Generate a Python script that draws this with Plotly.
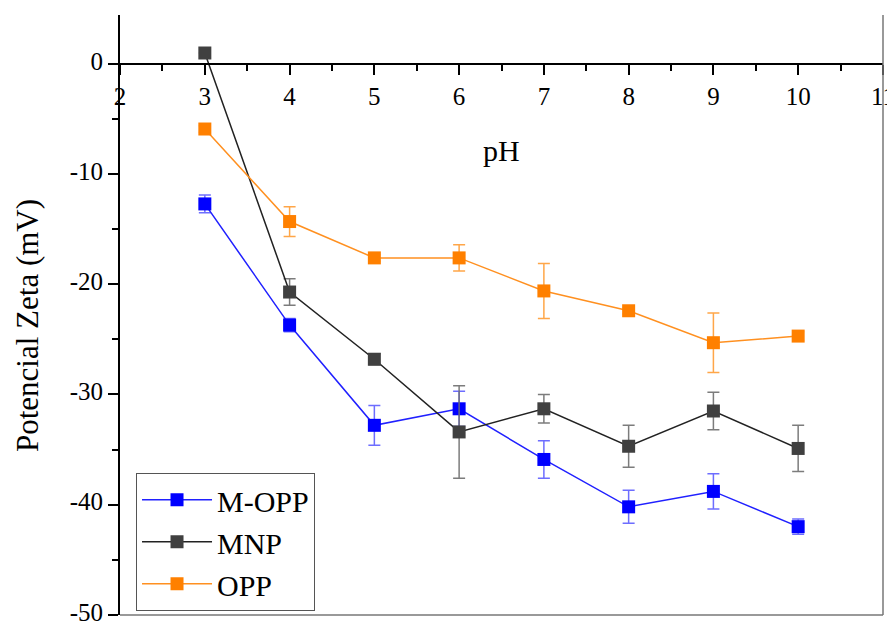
import plotly.graph_objects as go

ph = [3, 4, 5, 6, 7, 8, 9, 10]

m_opp = [-12.7, -23.7, -32.8, -31.3, -35.9, -40.2, -38.8, -42.0]
m_opp_err = [0.8, 0.6, 1.8, 1.6, 1.7, 1.5, 1.6, 0.7]

mnp = [1.0, -20.7, -26.8, -33.4, -31.3, -34.7, -31.5, -34.9]
mnp_err = [0.0, 1.2, 0.5, 4.2, 1.3, 1.9, 1.7, 2.1]

opp = [-5.9, -14.3, -17.6, -17.6, -20.6, -22.4, -25.3, -24.7]
opp_err = [0.3, 1.35, 0.3, 1.2, 2.5, 0.3, 2.7, 0.4]

x_ticks = [2, 3, 4, 5, 6, 7, 8, 9, 10, 11]
y_ticks = [0, -10, -20, -30, -40, -50]
y_tick_text = ["0", "-10", "-20", "-30", "-40", "-50"]

Y_MIN, Y_MAX = -50.02, 4.45
FONT = "Liberation Serif, Times New Roman, serif"

series = [
    ("M-OPP", m_opp, m_opp_err, "#0000FF", "rgba(60,60,255,0.75)", "#2020FF"),
    ("MNP", mnp, mnp_err, "#404040", "rgba(110,110,110,0.9)", "#222222"),
    ("OPP", opp, opp_err, "#FF8000", "rgba(255,150,40,0.85)", "#FF9020"),
]

fig = go.Figure()
for name, vals, errs, mcol, ecol, lcol in series:
    fig.add_trace(go.Scatter(
        x=ph, y=vals, name=name, mode="lines+markers",
        line=dict(color=lcol, width=1.5),
        marker=dict(symbol="square", size=13, color=mcol),
        error_y=dict(type="data", array=errs, visible=True,
                     color=ecol, thickness=1.5, width=6),
    ))

x_pos = (0 - Y_MIN) / (Y_MAX - Y_MIN)

fig.update_layout(
    width=887, height=618,
    margin=dict(l=112, r=12, t=7, b=11),
    plot_bgcolor="white", paper_bgcolor="white",
    font=dict(family=FONT, size=25, color="black"),
    showlegend=True,
    legend=dict(
        x=0.021, y=0.237, xanchor="left", yanchor="top",
        bgcolor="white", bordercolor="#555555", borderwidth=1,
        font=dict(family=FONT, size=30, color="black"),
        itemwidth=70, tracegroupgap=0,
    ),
    xaxis=dict(
        range=[1.999, 11.001], anchor="free", position=x_pos,
        tickvals=x_ticks, ticktext=[str(v) for v in x_ticks],
        ticks="outside", ticklen=10, tickwidth=2, tickcolor="black",
        showline=True, linecolor="black", linewidth=2,
        showgrid=False, zeroline=False, automargin=False,
        ticklabeloverflow="allow",
        minor=dict(dtick=0.5, ticks="outside", ticklen=6, tickwidth=2, tickcolor="black"),
        tickfont=dict(family=FONT, size=25),
    ),
    yaxis=dict(
        range=[Y_MIN, Y_MAX],
        tickvals=y_ticks, ticktext=y_tick_text,
        ticks="outside", ticklen=10, tickwidth=2, tickcolor="black",
        showline=True, linecolor="black", linewidth=2,
        showgrid=False, zeroline=False, automargin=False,
        ticklabeloverflow="allow", ticklabelshift=-3,
        minor=dict(dtick=5, ticks="outside", ticklen=6, tickwidth=2, tickcolor="black"),
        tickfont=dict(family=FONT, size=25),
    ),
    annotations=[
        dict(text="pH", xref="paper", yref="paper", x=0.4994, y=(615 - 150) / 600,
             xanchor="center", yanchor="middle", showarrow=False,
             font=dict(family=FONT, size=30, color="black")),
        dict(text="Potencial Zeta (mV)", xref="paper", yref="paper",
             x=-(120 - 27) / 763, y=(615 - 326) / 600, textangle=-90,
             xanchor="center", yanchor="middle", showarrow=False,
             font=dict(family=FONT, size=31, color="black")),
    ],
    shapes=[
        dict(type="line", xref="paper", yref="paper", x0=1, x1=1, y0=0, y1=1,
             line=dict(color="#777777", width=1.5)),
        dict(type="line", xref="paper", yref="paper", x0=0, x1=1, y0=0, y1=0,
             line=dict(color="#777777", width=1.5)),
    ],
)

fig.write_html("out.html")
